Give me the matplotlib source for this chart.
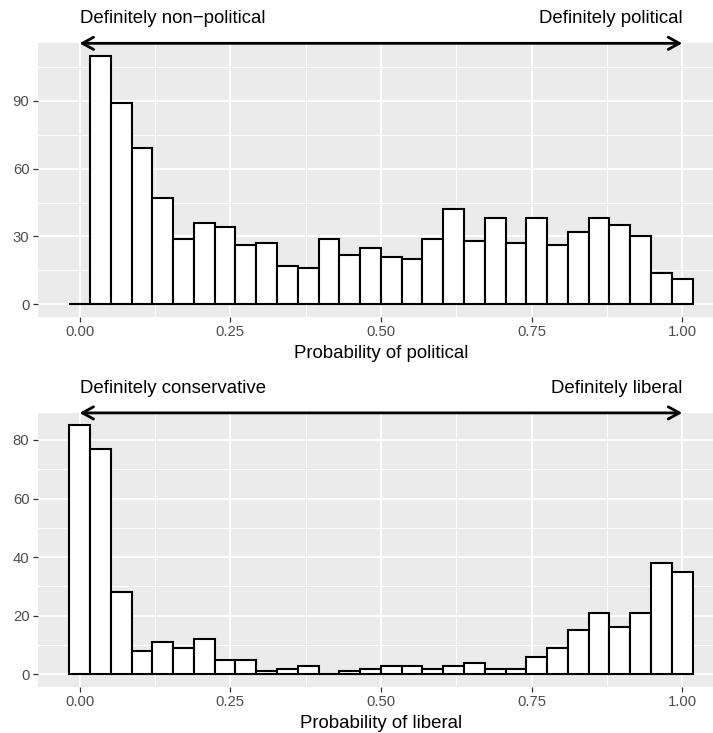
import numpy as np
import matplotlib
matplotlib.use('Agg')
import matplotlib.pyplot as plt

plt.rcParams['font.family'] = ['Liberation Sans', 'DejaVu Sans']

# 30 histogram bins over [0, 1] (ggplot default bins=30)
bin_centers = np.linspace(0, 1, 30)

political_counts = [0, 110, 89, 69, 47, 29, 36, 34, 26, 27,
                    17, 16, 29, 22, 25, 21, 20, 29, 42, 28,
                    38, 27, 38, 26, 32, 38, 35, 30, 14, 11]

liberal_counts = [85, 77, 28, 8, 11, 9, 12, 5, 5, 1,
                  2, 3, 0, 1, 2, 3, 3, 2, 3, 4,
                  2, 2, 6, 9, 15, 21, 16, 21, 38, 35]

panels = [
    dict(counts=political_counts, xlabel='Probability of political',
         left='Definitely non\u2212political', right='Definitely political',
         yticks=[0, 30, 60, 90], yminor=[15, 45, 75, 105],
         pos=[0.0533, 0.5680, 0.9618, 0.3729]),
    dict(counts=liberal_counts, xlabel='Probability of liberal',
         left='Definitely conservative', right='Definitely liberal',
         yticks=[0, 20, 40, 60, 80], yminor=[10, 30, 50, 70],
         pos=[0.0533, 0.0630, 0.9618, 0.3737]),
]

fig = plt.figure(figsize=(7.13, 7.33), dpi=100)

for p in panels:
    ax = fig.add_axes(p['pos'])
    counts = np.array(p['counts'])
    width = bin_centers[1] - bin_centers[0]

    ax.set_facecolor('#EBEBEB')
    ax.bar(bin_centers, counts, width=width, color='white',
           edgecolor='black', linewidth=1.5, zorder=3)

    # ggplot-like 5% expansion
    lo, hi = bin_centers[0] - width / 2, bin_centers[-1] + width / 2
    pad = 0.05 * (hi - lo)
    ax.set_xlim(lo - pad, hi + pad)
    ymax = counts.max()
    ax.set_ylim(-0.05 * ymax, 1.05 * ymax)

    ax.set_xticks([0, 0.25, 0.5, 0.75, 1.0])
    ax.set_xticklabels(['0.00', '0.25', '0.50', '0.75', '1.00'])
    ax.set_xticks([0.125, 0.375, 0.625, 0.875], minor=True)
    ax.set_yticks(p['yticks'])
    ax.set_yticks(p['yminor'], minor=True)

    ax.grid(which='major', color='white', linewidth=1.4, zorder=0)
    ax.grid(which='minor', color='white', linewidth=0.7, zorder=0)
    ax.set_axisbelow(True)
    for s in ax.spines.values():
        s.set_visible(False)

    ax.tick_params(which='major', length=3.4, width=0.9, color='#333333',
                   labelcolor='#4D4D4D', labelsize=10.7, pad=2.8)
    ax.tick_params(which='minor', length=0)
    ax.set_xlabel(p['xlabel'], fontsize=13.4, labelpad=4)

    # double-headed arrow along top of the panel
    ax.annotate('', xy=(1.0, 1.0), xytext=(0.0, 1.0),
                xycoords=('data', 'axes fraction'),
                textcoords=('data', 'axes fraction'),
                arrowprops=dict(arrowstyle='<->,head_length=0.4,head_width=0.22',
                                color='black', linewidth=2.0,
                                shrinkA=0, shrinkB=0, mutation_scale=20),
                annotation_clip=False)
    ax.annotate(p['left'], xy=(0.0, 1.0), xycoords=('data', 'axes fraction'),
                xytext=(0, 14.4), textcoords='offset points',
                ha='left', va='baseline', fontsize=13.4, color='black')
    ax.annotate(p['right'], xy=(1.0, 1.0), xycoords=('data', 'axes fraction'),
                xytext=(0, 14.4), textcoords='offset points',
                ha='right', va='baseline', fontsize=13.4, color='black')

fig.savefig('out.png', dpi=100)
